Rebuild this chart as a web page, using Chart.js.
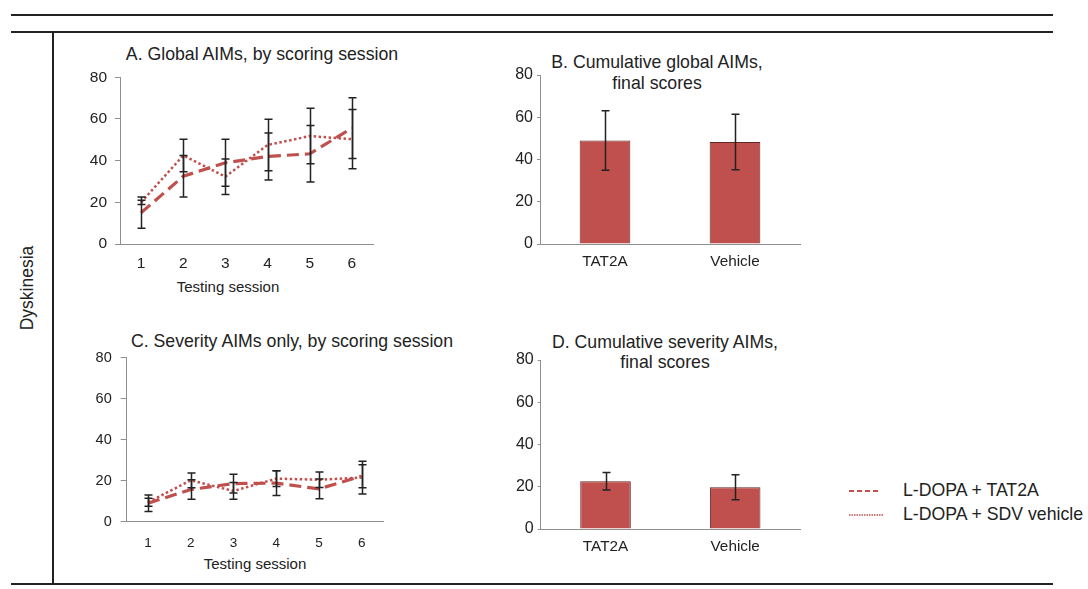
<!DOCTYPE html>
<html lang="en">
<head>
<meta charset="UTF-8">
<title>Dyskinesia AIMs</title>
<script src="https://cdn.jsdelivr.net/npm/chart.js"></script>
<style>
  body { margin: 0; background: #fff; font-family: 'Liberation Sans', Arial, sans-serif; color: #222; }
  .page { position: relative; width: 1088px; height: 589px; overflow: hidden; }
  .rule { position: absolute; background: #222; }
  .box { position: absolute; }
  .txt { position: absolute; transform: translate(-50%, -50%); white-space: nowrap; line-height: 1; }
  .title { font-size: 17.7px; }
  .axis-title { font-size: 15px; }
  .legend-text { position: absolute; font-size: 17.7px; line-height: 1; transform: translateY(-50%); white-space: nowrap; }
</style>
</head>
<body>
<div class="page">
  <!-- table rules -->
  <div class="rule" style="left:11px; top:14px; width:1042px; height:2px;"></div>
  <div class="rule" style="left:11px; top:31px; width:1042px; height:2px;"></div>
  <div class="rule" style="left:11px; top:583px; width:1042px; height:2px;"></div>
  <div class="rule" style="left:52px; top:31px; width:2px; height:554px;"></div>

  <div class="txt" style="left:28px; top:288px; font-size:17.5px; transform: translate(-50%, -50%) rotate(-90deg);">Dyskinesia</div>

  <!-- panel titles -->
  <div class="txt title" style="left:262px; top:55px;">A. Global AIMs, by scoring session</div>
  <div class="txt title" style="left:657px; top:63px;">B. Cumulative global AIMs,</div>
  <div class="txt title" style="left:657px; top:84px;">final scores</div>
  <div class="txt title" style="left:292px; top:342px;">C. Severity AIMs only, by scoring session</div>
  <div class="txt title" style="left:665px; top:343px;">D. Cumulative severity AIMs,</div>
  <div class="txt title" style="left:665px; top:363px;">final scores</div>

  <div class="txt axis-title" style="left:228px; top:286px;">Testing session</div>
  <div class="txt axis-title" style="left:255px; top:563px;">Testing session</div>

  <!-- charts -->
  <div class="box" style="left:60px; top:60px; width:330px; height:215px;"><canvas id="chartA"></canvas></div>
  <div class="box" style="left:490px; top:60px; width:330px; height:215px;"><canvas id="chartB"></canvas></div>
  <div class="box" style="left:60px; top:340px; width:340px; height:215px;"><canvas id="chartC"></canvas></div>
  <div class="box" style="left:490px; top:345px; width:330px; height:215px;"><canvas id="chartD"></canvas></div>

  <!-- legend -->
  <svg style="position:absolute; left:845px; top:480px;" width="45" height="50">
    <line x1="4" y1="11" x2="35" y2="11" stroke="#c0504d" stroke-width="2" stroke-dasharray="5 3"/>
    <line x1="4" y1="35" x2="38" y2="35" stroke="#c0504d" stroke-width="1.5" stroke-dasharray="1.5 1"/>
  </svg>
  <div class="legend-text" style="left:903px; top:491px;">L-DOPA + TAT2A</div>
  <div class="legend-text" style="left:903px; top:515px;">L-DOPA + SDV vehicle</div>
</div>

<script>
// sessions on the x axis of panels A and C
const sessions = ['1', '2', '3', '4', '5', '6'];
const groups = ['TAT2A', 'Vehicle'];
const yTicks = [0, 20, 40, 60, 80];

// A. global AIMs by session
const globalTat = [15, 32.5, 39, 42, 43.3, 55.6];
const globalTatErr = [7.5, 10, 11.3, 11.3, 13.6, 14.6];
const globalVeh = [20, 42.5, 32.3, 47.5, 51.8, 50.3];
const globalVehErr = [1, 7.8, 8.5, 12.4, 13.3, 14.2];

// B. cumulative global AIMs
const cumGlobal = [49, 48.3];
const cumGlobalErr = [14.1, 13.1];

// C. severity AIMs by session
const sevTat = [9, 15.7, 18.6, 18.8, 16, 22.2];
const sevTatErr = [4, 4.8, 4.6, 6, 4.8, 5.6];
const sevVeh = [9.5, 20.2, 15, 21, 20.5, 21.5];
const sevVehErr = [2, 3.6, 4.1, 3.8, 3.8, 8];

// D. cumulative severity AIMs
const cumSev = [22.6, 19.8];
const cumSevErr = [4.1, 5.9];

const red = '#c0504d';
const axisGray = '#8f8f8f';
const FONT = "'Liberation Sans', Arial, sans-serif";

Chart.defaults.font.family = FONT;
Chart.defaults.color = '#222';
Chart.defaults.animation = false;

// draws +/- error bars from the dataset's errors array
const errorBars = {
  id: 'errorBars',
  afterDatasetsDraw(chart) {
    const ctx = chart.ctx;
    const y = chart.scales.y;
    chart.data.datasets.forEach((ds, i) => {
      if (!ds.errors) return;
      const meta = chart.getDatasetMeta(i);
      meta.data.forEach((el, j) => {
        const v = ds.data[j], e = ds.errors[j];
        const top = y.getPixelForValue(v + e);
        const bot = y.getPixelForValue(v - e);
        const x = Math.round(el.x) + 0.5;
        ctx.save();
        ctx.strokeStyle = '#222';
        ctx.lineWidth = 1.5;
        ctx.beginPath();
        ctx.moveTo(x, top); ctx.lineTo(x, bot);
        ctx.moveTo(x - 4, top); ctx.lineTo(x + 4, top);
        ctx.moveTo(x - 4, bot); ctx.lineTo(x + 4, bot);
        ctx.stroke();
        ctx.restore();
      });
    });
  }
};

function yAxis(width, tickLen, pad, size) {
  return {
    min: 0, max: 80,
    afterBuildTicks: s => { s.ticks = yTicks.map(v => ({ value: v })); },
    afterFit: s => { s.width = width; },
    grid: { display: true, drawOnChartArea: false, drawTicks: true, tickLength: tickLen, color: axisGray },
    border: { display: true, color: axisGray, width: 1 },
    ticks: { padding: pad, font: { size: size }, color: '#222' }
  };
}

function xAxis(height, pad, size) {
  return {
    offset: true,
    afterFit: s => { s.height = height; },
    grid: { display: false, drawTicks: false },
    border: { display: true, color: axisGray, width: 1 },
    ticks: { padding: pad, font: { size: size }, color: '#222', maxRotation: 0 }
  };
}

function lineChart(id, tat, tatErr, veh, vehErr, pad, yw, xh, xpad, xsize, ysize, ytl, ypad) {
  return new Chart(document.getElementById(id), {
    type: 'line',
    data: {
      labels: sessions,
      datasets: [
        { label: 'L-DOPA + TAT2A', data: tat, errors: tatErr, borderColor: red, borderWidth: 3.2,
          borderDash: [12, 6], pointRadius: 0, tension: 0, fill: false },
        { label: 'L-DOPA + SDV vehicle', data: veh, errors: vehErr, borderColor: red, borderWidth: 2.5,
          borderDash: [2.5, 2.5], pointRadius: 0, tension: 0, fill: false }
      ]
    },
    options: {
      responsive: true, maintainAspectRatio: false,
      layout: { padding: pad },
      plugins: { legend: { display: false }, tooltip: { enabled: false } },
      scales: { x: xAxis(xh, xpad, xsize), y: yAxis(yw, ytl, ypad, ysize) }
    },
    plugins: [errorBars]
  });
}

function barChart(id, vals, errs, pad, yw, xh) {
  return new Chart(document.getElementById(id), {
    type: 'bar',
    data: {
      labels: groups,
      datasets: [{ data: vals, errors: errs, backgroundColor: red, borderColor: '#5e2826', borderWidth: 1,
        barPercentage: 0.39, categoryPercentage: 1 }]
    },
    options: {
      responsive: true, maintainAspectRatio: false,
      layout: { padding: pad },
      plugins: { legend: { display: false }, tooltip: { enabled: false } },
      scales: { x: xAxis(xh, 9, 15.3), y: yAxis(yw, 3, 4, 16) }
    },
    plugins: [errorBars]
  });
}

lineChart('chartA', globalTat, globalTatErr, globalVeh, globalVehErr,
  { top: 15, right: 17, left: 0, bottom: 0 }, 60, 31, 10, 15.5, 15.5, 5, 8);
barChart('chartB', cumGlobal, cumGlobalErr, { top: 15, right: 20, left: 0, bottom: 0 }, 50, 31);
lineChart('chartC', sevTat, sevTatErr, sevVeh, sevVehErr,
  { top: 15.7, right: 17, left: 0, bottom: 0 }, 66.7, 33.3, 13, 13.5, 14.5, 6, 9);
barChart('chartD', cumSev, cumSevErr, { top: 15, right: 20, left: 0.7, bottom: 0 }, 50, 31);
</script>
</body>
</html>
